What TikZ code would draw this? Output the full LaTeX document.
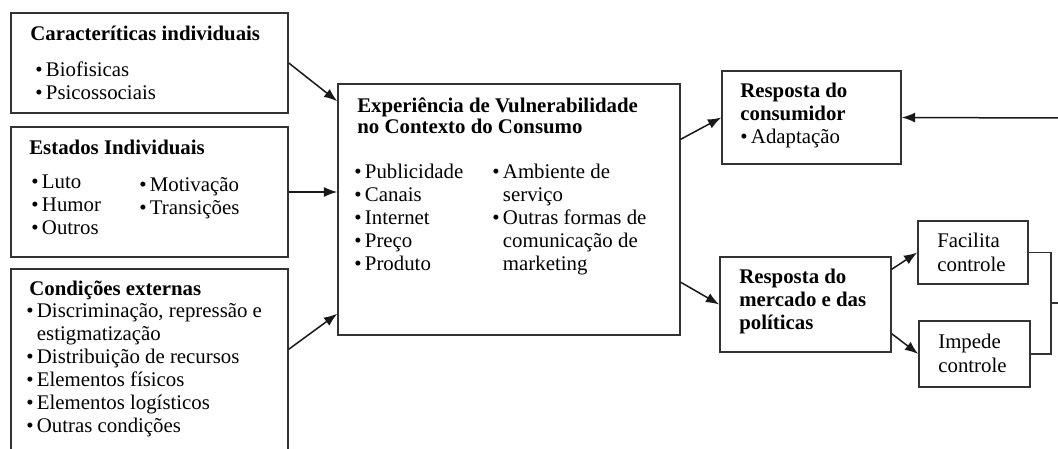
\documentclass[tikz,border=0pt]{standalone}
\usepackage{fontspec}
\setmainfont{Liberation Serif}
\usetikzlibrary{calc,fit,arrows.meta,positioning}
\newcommand{\marca}{\textbullet\hspace{2pt}}
\newcommand{\linhas}[1]{\begin{tabular}[t]{@{}l@{}}#1\end{tabular}}

\begin{document}
\begin{tikzpicture}[x=0.6pt,y=-0.6pt]

\tikzset{caixa/.style={draw=black!80,line width=0.9pt,inner sep=0pt},
texto/.style={anchor=base west,inner sep=0pt,font=\fontsize{12.5}{13.8}\selectfont},
seta/.style={-{Latex[length=8pt,width=6pt]},line width=0.9pt,draw=black!90}}

\clip (0,0) rectangle (1058,448);

% Boxes
\node (car) [caixa,fit={(11,13) (288,113)}] {};
\node (est) [caixa,fit={(11,127) (288,257)}] {};
\node (con) [caixa,fit={(11,269) (288,455)}] {};
\node (exp) [caixa,fit={(338,84) (680,335)}] {};
\node (cons) [caixa,fit={(722,71) (901,164)}] {};
\node (merc) [caixa,fit={(720,257) (891,352)}] {};
\node (fac) [caixa,fit={(918,221) (1028,284)}] {};
\node (imp) [caixa,fit={(919,321) (1030,387)}] {};

% Texts
\node (carT) [texto] at (30,40) {\textbf{Caracteríticas individuais}};
\node (carL) [texto] at (35,76) {\linhas{\marca Biofisicas\\\marca Psicossociais}};

\node (estT) [texto] at (29,154) {\textbf{Estados Individuais}};
\node (estA) [texto] at (31,188) {\linhas{\marca Luto\\\marca Humor\\\marca Outros}};
\node (estB) [texto] at (139,191) {\linhas{\marca Motivação\\\marca Transições}};

\node (conT) [texto] at (29,295) {\textbf{Condições externas}};
\node (conL) [texto] at (26,317) {\linhas{\marca Discriminação, repressão e\\\phantom{\marca}estigmatização\\\marca Distribuição de recursos\\\marca Elementos físicos\\\marca Elementos logísticos\\\marca Outras condições}};

\node (expT) [texto] at (357,112) {\linhas{\textbf{Experiência de Vulnerabilidade}\\[-1.2pt]\textbf{no Contexto do Consumo}}};
\node (expA) [texto] at (354,178) {\linhas{\marca Publicidade\\\marca Canais\\\marca Internet\\\marca Preço\\\marca Produto}};
\node (expB) [texto] at (492,178) {\linhas{\marca Ambiente de\\\phantom{\marca}serviço\\\marca Outras formas de\\\phantom{\marca}comunicação de\\\phantom{\marca}marketing}};

\node (consT) [texto] at (740,97) {\linhas{\textbf{Resposta do}\\\textbf{consumidor}\\\marca Adaptação}};
\node (mercT) [texto] at (739,283) {\linhas{\textbf{Resposta do}\\\textbf{mercado e das}\\\textbf{políticas}}};
\node (facT) [texto] at (937,247) {\linhas{Facilita\\[1pt]controle}};
\node (impT) [texto] at (938,348) {\linhas{Impede\\[1pt]controle}};

% Arrows
\coordinate (retorno) at (1060,118);
\coordinate (juncao) at (1051,303);
\coordinate (saida) at (1060,303);

\draw[seta] (car.east) -- ($(exp.north west)+(0,18)$);
\draw[seta] (est.east) -- (exp.west |- est.east);
\draw[seta] ($(con.north east)+(0,81)$) -- ($(exp.south west)+(0,-22)$);
\draw[seta] ($(exp.north east)+(0,56)$) -- (cons.west);
\draw[seta] (retorno) -- (cons.east);
\draw[seta] ($(exp.north east)+(0,199)$) -- (merc.west);
\draw[seta] ($(merc.north east)+(0,13)$) -- (fac.west);
\draw[seta] ($(merc.south east)+(0,-19)$) -- (imp.west);

% Bracket
\draw[line width=0.9pt,draw=black!80] (fac.east) -| (juncao) |- (imp.east);
\draw[line width=0.9pt,draw=black!80] (juncao) -- (saida);

\end{tikzpicture}
\end{document}
